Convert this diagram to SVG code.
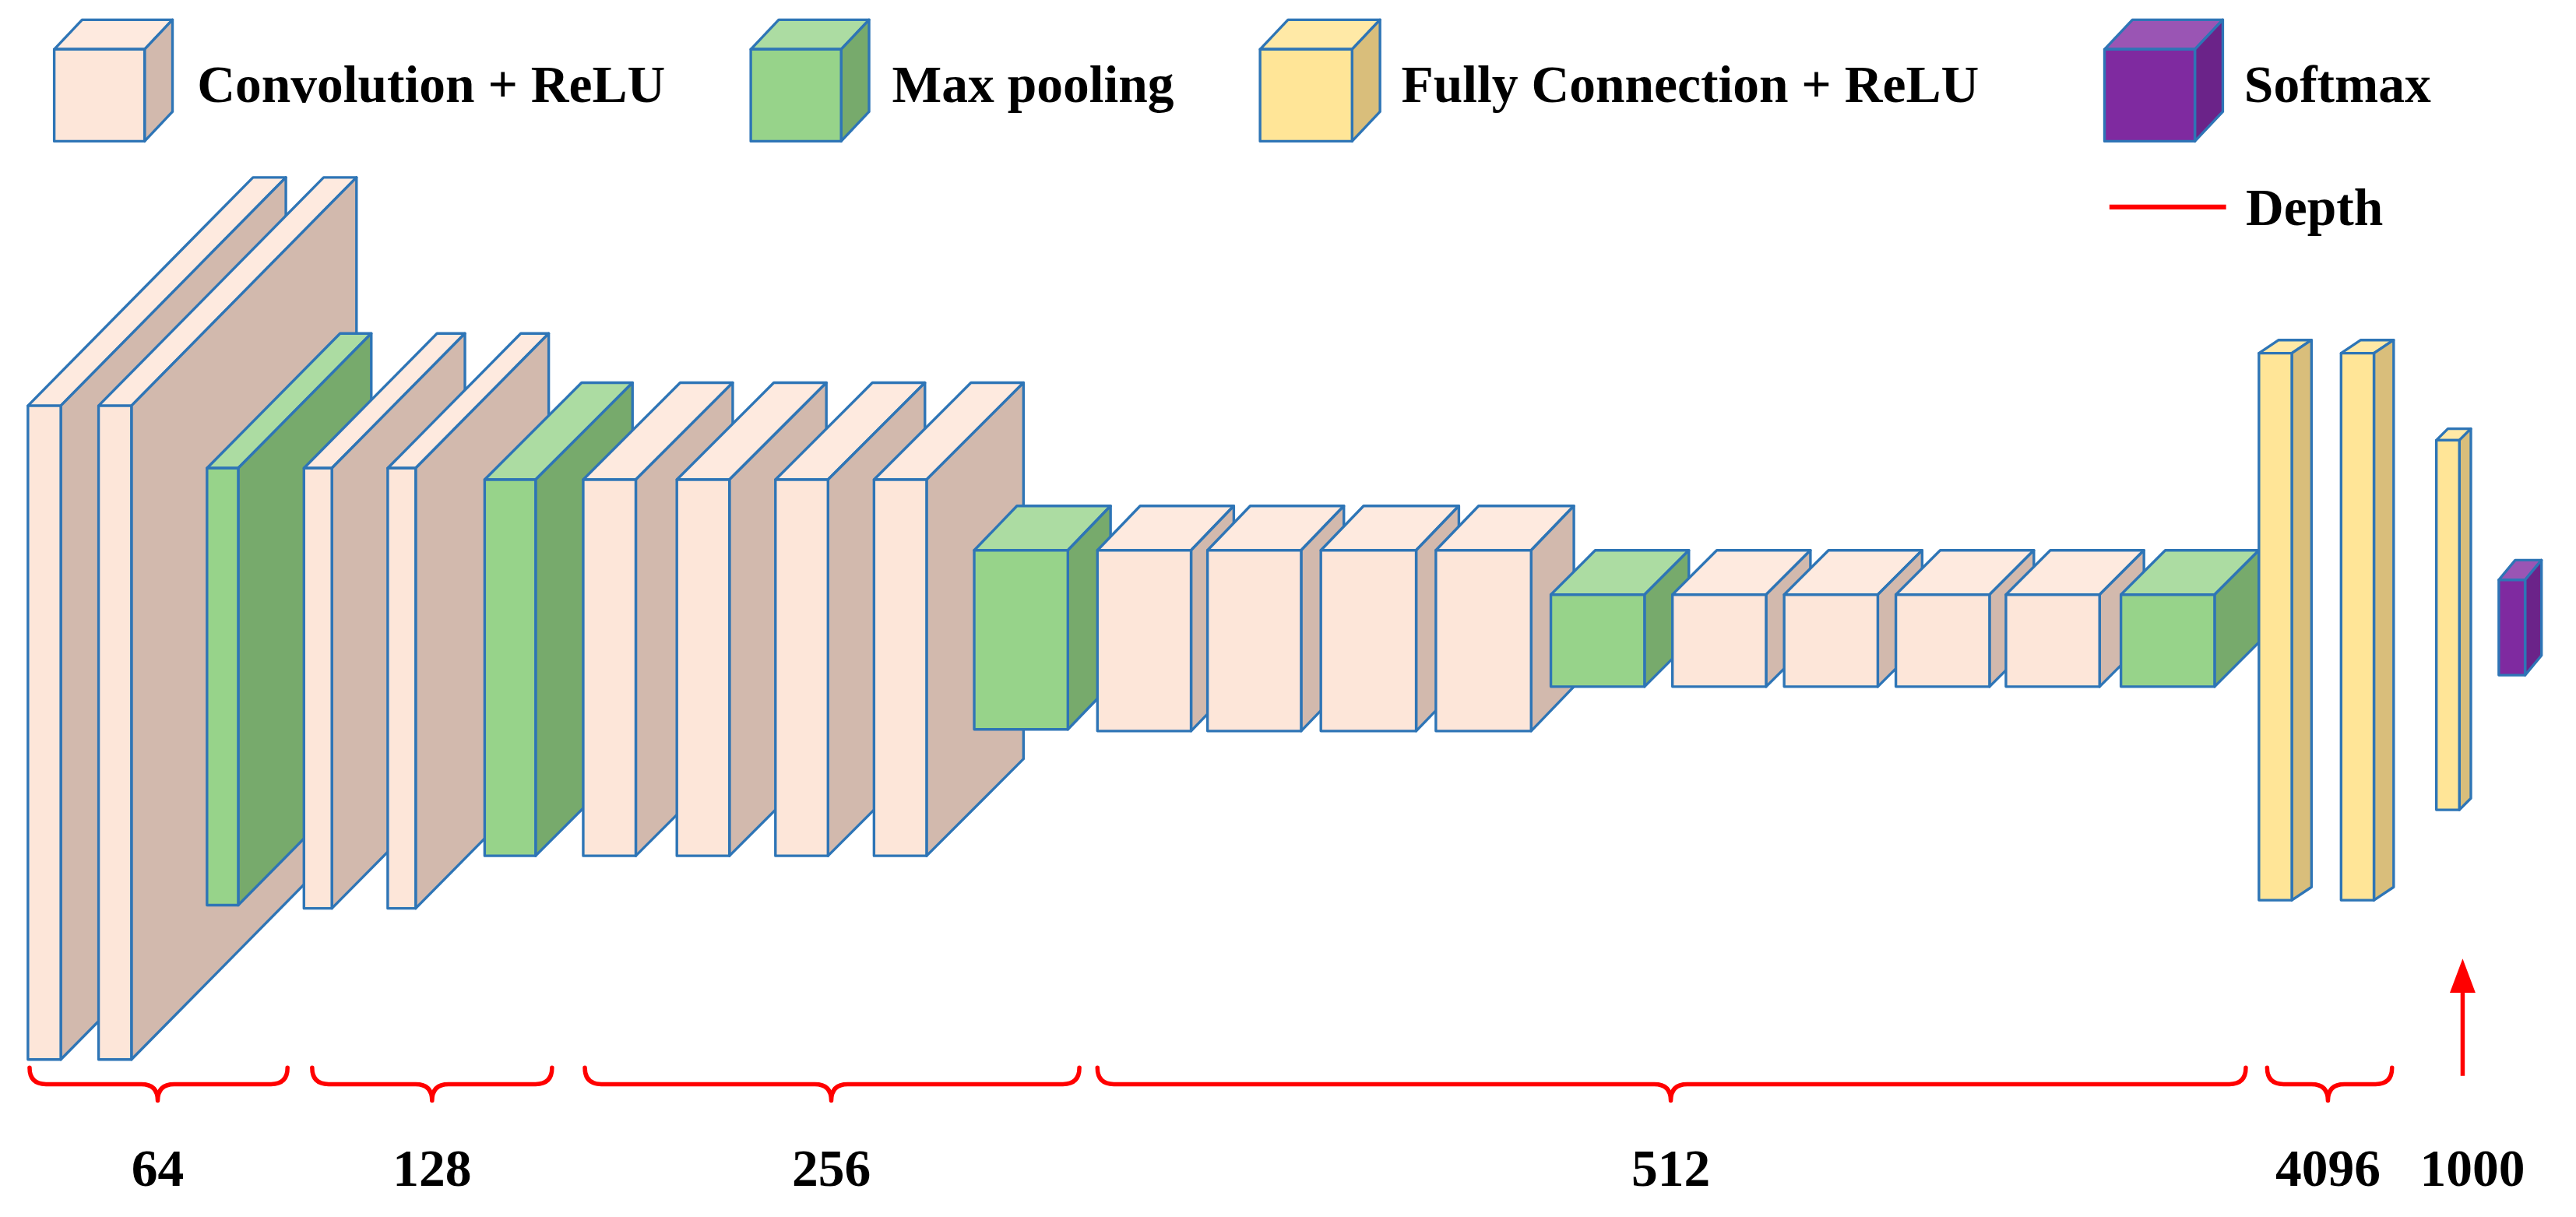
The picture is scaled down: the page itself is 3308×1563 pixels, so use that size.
<svg xmlns="http://www.w3.org/2000/svg" width="3308" height="1563" viewBox="0 0 3308 1563">
<style>
.s{stroke:#2E75B6;stroke-width:1.6;stroke-linejoin:round}
.cf{fill:#FDE6D9}.ct{fill:#FEEADF}.cs{fill:#D2B9AD}
.pf{fill:#97D38A}.pt{fill:#ACDCA2}.ps{fill:#77AA6C}
.ff{fill:#FFE597}.ft{fill:#FFE9A6}.fs{fill:#D9BE7B}
.mf{fill:#7F2AA0}.mt{fill:#9A55B4}.ms{fill:#6B2389}
text{font-family:"Liberation Serif","Times New Roman",serif;font-weight:bold;fill:#000}
.lg{font-size:32px}.nb{font-size:32px;text-anchor:middle}
.br{fill:none;stroke:#FF0000;stroke-width:2.6;stroke-linecap:round;stroke-linejoin:round}
</style>
<defs><marker id="ah" markerWidth="8" markerHeight="8" refX="4" refY="4" orient="auto" markerUnits="strokeWidth"><path d="M0,1 L8,4 L0,7 Z" fill="#FF0000"/></marker></defs>
<rect width="3308" height="1563" fill="#fff"/>
<g transform="scale(2.1097)">
<g id="legend">
<g id="lg-conv"><polygon class="s ct" points="33,30 50,12 105,12 88,30"/><polygon class="s cs" points="88,30 105,12 105,68 88,86"/><rect class="s cf" x="33" y="30" width="55" height="56"/><text class="lg" x="120" y="62">Convolution + ReLU</text></g>
<g id="lg-pool"><polygon class="s pt" points="457,30 474,12 529,12 512,30"/><polygon class="s ps" points="512,30 529,12 529,68 512,86"/><rect class="s pf" x="457" y="30" width="55" height="56"/><text class="lg" x="543" y="62">Max pooling</text></g>
<g id="lg-fc"><polygon class="s ft" points="767,30 784,12 840,12 823,30"/><polygon class="s fs" points="823,30 840,12 840,68 823,86"/><rect class="s ff" x="767" y="30" width="56" height="56"/><text class="lg" x="853" y="62">Fully Connection + ReLU</text></g>
<g id="lg-soft"><polygon class="s mt" points="1281,30 1298,12 1353,12 1336,30"/><polygon class="s ms" points="1336,30 1353,12 1353,68 1336,86"/><rect class="s mf" x="1281" y="30" width="55" height="56"/><text class="lg" x="1366" y="62">Softmax</text></g>
<g id="lg-depth"><line x1="1284" y1="126" x2="1355" y2="126" stroke="#FF0000" stroke-width="3"/><text class="lg" x="1367" y="137">Depth</text></g>
</g>
<g id="n1"><polygon class="s ct" points="17,247 154,108 174,108 37,247"/><polygon class="s cs" points="37,247 174,108 174,506 37,645"/><rect class="s cf" x="17" y="247" width="20" height="398"/></g>
<g id="n2"><polygon class="s ct" points="60,247 197,108 217,108 80,247"/><polygon class="s cs" points="80,247 217,108 217,506 80,645"/><rect class="s cf" x="60" y="247" width="20" height="398"/></g>
<g id="n3"><polygon class="s pt" points="126,285 207,203 226,203 145,285"/><polygon class="s ps" points="145,285 226,203 226,469 145,551"/><rect class="s pf" x="126" y="285" width="19" height="266"/></g>
<g id="n4"><polygon class="s ct" points="185,285 266,203 283,203 202,285"/><polygon class="s cs" points="202,285 283,203 283,471 202,553"/><rect class="s cf" x="185" y="285" width="17" height="268"/></g>
<g id="n5"><polygon class="s ct" points="236,285 317,203 334,203 253,285"/><polygon class="s cs" points="253,285 334,203 334,471 253,553"/><rect class="s cf" x="236" y="285" width="17" height="268"/></g>
<g id="n6"><polygon class="s pt" points="295,292 354,233 385,233 326,292"/><polygon class="s ps" points="326,292 385,233 385,462 326,521"/><rect class="s pf" x="295" y="292" width="31" height="229"/></g>
<g id="n7"><polygon class="s ct" points="355,292 414,233 446,233 387,292"/><polygon class="s cs" points="387,292 446,233 446,462 387,521"/><rect class="s cf" x="355" y="292" width="32" height="229"/></g>
<g id="n8"><polygon class="s ct" points="412,292 471,233 503,233 444,292"/><polygon class="s cs" points="444,292 503,233 503,462 444,521"/><rect class="s cf" x="412" y="292" width="32" height="229"/></g>
<g id="n9"><polygon class="s ct" points="472,292 531,233 563,233 504,292"/><polygon class="s cs" points="504,292 563,233 563,462 504,521"/><rect class="s cf" x="472" y="292" width="32" height="229"/></g>
<g id="n10"><polygon class="s ct" points="532,292 591,233 623,233 564,292"/><polygon class="s cs" points="564,292 623,233 623,462 564,521"/><rect class="s cf" x="532" y="292" width="32" height="229"/></g>
<g id="n11"><polygon class="s pt" points="593,335 619,308 676,308 650,335"/><polygon class="s ps" points="650,335 676,308 676,417 650,444"/><rect class="s pf" x="593" y="335" width="57" height="109"/></g>
<g id="n12"><polygon class="s ct" points="668,335 694,308 751,308 725,335"/><polygon class="s cs" points="725,335 751,308 751,418 725,445"/><rect class="s cf" x="668" y="335" width="57" height="110"/></g>
<g id="n13"><polygon class="s ct" points="735,335 761,308 818,308 792,335"/><polygon class="s cs" points="792,335 818,308 818,418 792,445"/><rect class="s cf" x="735" y="335" width="57" height="110"/></g>
<g id="n14"><polygon class="s ct" points="804,335 830,308 888,308 862,335"/><polygon class="s cs" points="862,335 888,308 888,418 862,445"/><rect class="s cf" x="804" y="335" width="58" height="110"/></g>
<g id="n15"><polygon class="s ct" points="874,335 900,308 958,308 932,335"/><polygon class="s cs" points="932,335 958,308 958,418 932,445"/><rect class="s cf" x="874" y="335" width="58" height="110"/></g>
<g id="n16"><polygon class="s pt" points="944,362 971,335 1028,335 1001,362"/><polygon class="s ps" points="1001,362 1028,335 1028,391 1001,418"/><rect class="s pf" x="944" y="362" width="57" height="56"/></g>
<g id="n17"><polygon class="s ct" points="1018,362 1045,335 1102,335 1075,362"/><polygon class="s cs" points="1075,362 1102,335 1102,391 1075,418"/><rect class="s cf" x="1018" y="362" width="57" height="56"/></g>
<g id="n18"><polygon class="s ct" points="1086,362 1113,335 1170,335 1143,362"/><polygon class="s cs" points="1143,362 1170,335 1170,391 1143,418"/><rect class="s cf" x="1086" y="362" width="57" height="56"/></g>
<g id="n19"><polygon class="s ct" points="1154,362 1181,335 1238,335 1211,362"/><polygon class="s cs" points="1211,362 1238,335 1238,391 1211,418"/><rect class="s cf" x="1154" y="362" width="57" height="56"/></g>
<g id="n20"><polygon class="s ct" points="1221,362 1248,335 1305,335 1278,362"/><polygon class="s cs" points="1278,362 1305,335 1305,391 1278,418"/><rect class="s cf" x="1221" y="362" width="57" height="56"/></g>
<g id="n21"><polygon class="s pt" points="1291,362 1318,335 1375,335 1348,362"/><polygon class="s ps" points="1348,362 1375,335 1375,391 1348,418"/><rect class="s pf" x="1291" y="362" width="57" height="56"/></g>
<g id="n22"><polygon class="s ft" points="1375,215 1387,207 1407,207 1395,215"/><polygon class="s fs" points="1395,215 1407,207 1407,540 1395,548"/><rect class="s ff" x="1375" y="215" width="20" height="333"/></g>
<g id="n23"><polygon class="s ft" points="1425,215 1437,207 1457,207 1445,215"/><polygon class="s fs" points="1445,215 1457,207 1457,540 1445,548"/><rect class="s ff" x="1425" y="215" width="20" height="333"/></g>
<g id="n24"><polygon class="s ft" points="1483,268 1490,261 1504,261 1497,268"/><polygon class="s fs" points="1497,268 1504,261 1504,486 1497,493"/><rect class="s ff" x="1483" y="268" width="14" height="225"/></g>
<g id="n25"><polygon class="s mt" points="1521,353 1531,341 1547,341 1537,353"/><polygon class="s ms" points="1537,353 1547,341 1547,399 1537,411"/><rect class="s mf" x="1521" y="353" width="16" height="58"/></g>
<g id="connectors">
<path class="br" d="M18,650 Q18,660 28,660 L86,660 Q96,660 96,670 Q96,660 106,660 L165,660 Q175,660 175,650"/>
<path class="br" d="M190,650 Q190,660 200,660 L253,660 Q263,660 263,670 Q263,660 273,660 L326,660 Q336,660 336,650"/>
<path class="br" d="M356,650 Q356,660 366,660 L496,660 Q506,660 506,670 Q506,660 516,660 L647,660 Q657,660 657,650"/>
<path class="br" d="M668,650 Q668,660 678,660 L1007,660 Q1017,660 1017,670 Q1017,660 1027,660 L1357,660 Q1367,660 1367,650"/>
<path class="br" d="M1380,650 Q1380,660 1390,660 L1407,660 Q1417,660 1417,670 Q1417,660 1427,660 L1446,660 Q1456,660 1456,650"/>
<line x1="1499" y1="655" x2="1499" y2="594" stroke="#FF0000" stroke-width="2.6" marker-end="url(#ah)"/>
</g>
<g id="labels">
<text class="nb" x="96" y="722">64</text>
<text class="nb" x="263" y="722">128</text>
<text class="nb" x="506" y="722">256</text>
<text class="nb" x="1017" y="722">512</text>
<text class="nb" x="1417" y="722">4096</text>
<text class="nb" x="1505" y="722">1000</text>
</g>
</g>
</svg>
